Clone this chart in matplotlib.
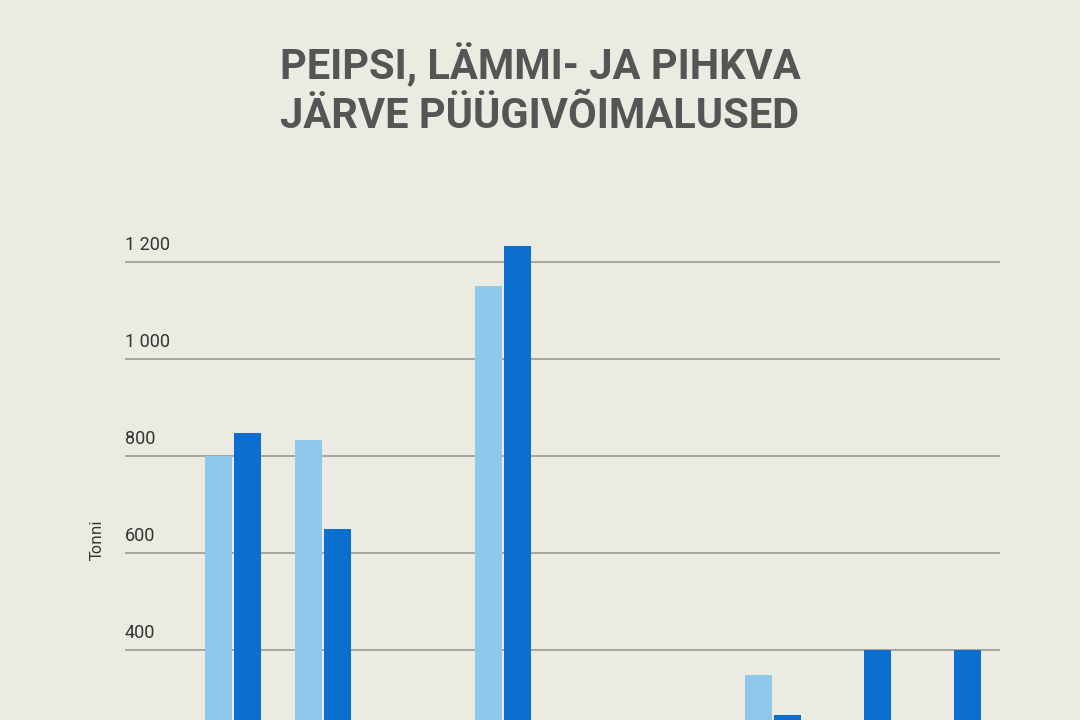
import matplotlib
matplotlib.use("Agg")
import matplotlib.pyplot as plt
import numpy as np

groups = ["1", "2", "3", "4", "5", "6", "7", "8", "9"]
light_values = [800, 833, 100, 1150, 100, 100, 348, 150, 150]
dark_values = [847, 650, 100, 1233, 100, 100, 265, 400, 400]
yticks = [200, 400, 600, 800, 1000, 1200]
ytick_labels = ["200", "400", "600", "800", "1 000", "1 200"]

bg = "#ecebe2"
fig = plt.figure(figsize=(10.8, 7.2), dpi=100, facecolor=bg)
ax = fig.add_axes([0.1157, -0.172, 0.810, 0.8757], facecolor=bg)
x = np.arange(len(groups))
w = 0.3
ax.bar(x - 0.16, light_values, w, color="#8ec8ea", zorder=3)
ax.bar(x + 0.16, dark_values, w, color="#0a6fcf", zorder=3)
ax.set_xlim(-1.2, 8.52)
ax.set_ylim(0, 1300)
for t, lab in zip(yticks, ytick_labels):
    ax.axhline(t, color="#9a9a94", lw=1.2, zorder=1)
    ax.text(-1.2, t + 16, lab, fontsize=13, color="#333333", va="bottom", ha="left",
            family="Roboto")
ax.set_xticks([]); ax.set_yticks([])
for s in ax.spines.values():
    s.set_visible(False)
fig.text(0.09, 0.25, "Tonni", rotation=90, fontsize=11, color="#333333", ha="center", va="center")
fig.text(0.5, 0.875, "PEIPSI, LÄMMI- JA PIHKVA\nJÄRVE PÜÜGIVÕIMALUSED", ha="center", va="center",
         fontsize=30, fontweight="bold", color="#555555", family="Roboto", linespacing=1.25)
fig.savefig("out.png", dpi=100, facecolor=bg)
